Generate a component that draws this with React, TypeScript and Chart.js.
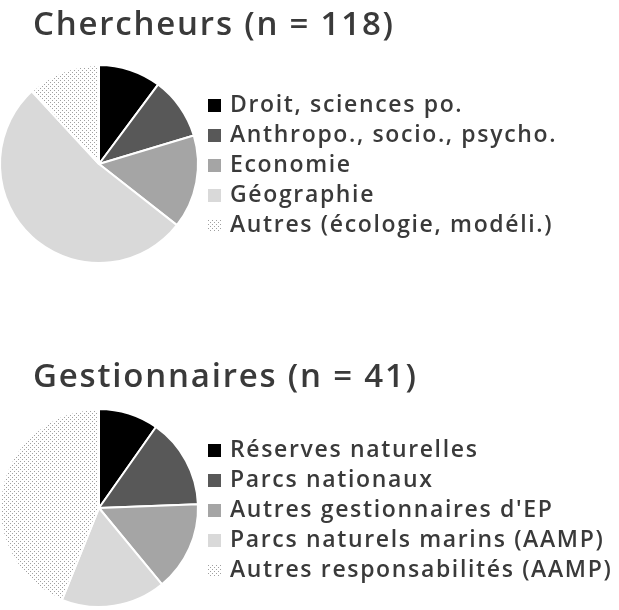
import React, { useEffect, useRef } from "react";
import { Chart, registerables } from "chart.js";

Chart.register(...registerables);

const chercheursTitle = "Chercheurs (n = 118)";
const chercheursLabels = [
  "Droit, sciences po.",
  "Anthropo., socio., psycho.",
  "Economie",
  "Géographie",
  "Autres (écologie, modéli.)",
];
const chercheursValues = [12, 12, 18, 62, 14];

const gestionnairesTitle = "Gestionnaires (n = 41)";
const gestionnairesLabels = [
  "Réserves naturelles",
  "Parcs nationaux",
  "Autres gestionnaires d'EP",
  "Parcs naturels marins (AAMP)",
  "Autres responsabilités (AAMP)",
];
const gestionnairesValues = [4, 6, 6, 7, 18];

const TEXT_COLOR = "#3a3a3a";
const FONT = "'Open Sans', 'DejaVu Sans', sans-serif";
const SHIFT = 4; // canvas is placed 4px left of the page edge

function makeDotPattern(): CanvasPattern | string {
  const c = document.createElement("canvas");
  c.width = 4;
  c.height = 4;
  const g = c.getContext("2d");
  if (!g) return "#eeeeee";
  g.fillStyle = "#ffffff";
  g.fillRect(0, 0, 4, 4);
  g.fillStyle = "#a0a0a0";
  g.fillRect(0, 0, 1, 1);
  g.fillRect(2, 2, 1, 1);
  const p = g.createPattern(c, "repeat");
  return p || "#eeeeee";
}

const textPlugin = {
  id: "titleLegend",
  afterDraw(chart: any, _args: any, opts: any) {
    const ctx = chart.ctx as any;
    ctx.save();
    ctx.fillStyle = TEXT_COLOR;
    ctx.textBaseline = "alphabetic";
    ctx.textAlign = "left";
    ctx.font = `600 ${opts.titleSize}px ${FONT}`;
    ctx.letterSpacing = opts.titleSpacing;
    ctx.fillText(opts.title, opts.titleX, opts.titleY);
    const labels: string[] = chart.data.labels;
    const colors = chart.data.datasets[0].backgroundColor;
    ctx.font = `600 ${opts.legendSize}px ${FONT}`;
    ctx.letterSpacing = opts.legendSpacing;
    labels.forEach((lab, i) => {
      const y = opts.legendY + i * opts.legendStep;
      ctx.fillStyle = colors[i];
      ctx.fillRect(opts.boxX, y - opts.boxSize, opts.boxSize, opts.boxSize);
      ctx.fillStyle = TEXT_COLOR;
      ctx.fillText(lab, opts.textX, y);
    });
    ctx.restore();
  },
};

function PieBlock(props: {
  labels: string[];
  values: number[];
  title: string;
  padding: { left: number; right: number; top: number; bottom: number };
  titleY: number;
  legendY: number;
}) {
  const ref = useRef<HTMLCanvasElement>(null);
  useEffect(() => {
    if (!ref.current) return;
    const colors = ["#000000", "#585858", "#a5a5a5", "#d9d9d9", makeDotPattern()];
    const chart = new Chart(ref.current, {
      type: "pie",
      data: {
        labels: props.labels,
        datasets: [
          {
            data: props.values,
            backgroundColor: colors as any,
            borderColor: "#ffffff",
            borderWidth: 2,
          },
        ],
      },
      options: {
        animation: false,
        responsive: false,
        maintainAspectRatio: false,
        layout: { padding: props.padding },
        plugins: {
          legend: { display: false },
          tooltip: { enabled: false },
          titleLegend: {
            title: props.title,
            titleX: 33 + SHIFT,
            titleY: props.titleY,
            titleSize: 33,
            titleSpacing: "1.8px",
            legendY: props.legendY,
            legendStep: 30,
            legendSize: 23,
            legendSpacing: "1.65px",
            boxX: 208 + SHIFT,
            boxSize: 13,
            textX: 230 + SHIFT,
          },
        } as any,
      },
      plugins: [textPlugin],
    });
    return () => chart.destroy();
  }, []);
  return <canvas ref={ref} width={619 + SHIFT} height={305} style={{ display: "block", width: 619 + SHIFT, height: 305 }} />;
}

export default function App() {
  return (
    <div style={{ position: "absolute", left: -SHIFT, top: 0, width: 619 + SHIFT, height: 610, background: "#ffffff" }}>
      <PieBlock
        labels={chercheursLabels}
        values={chercheursValues}
        title={chercheursTitle}
        padding={{ left: 2, right: 419, top: 64, bottom: 41 }}
        titleY={35}
        legendY={112}
      />
      <PieBlock
        labels={gestionnairesLabels}
        values={gestionnairesValues}
        title={gestionnairesTitle}
        padding={{ left: 2, right: 419, top: 103, bottom: 2 }}
        titleY={82}
        legendY={152}
      />
    </div>
  );
}
